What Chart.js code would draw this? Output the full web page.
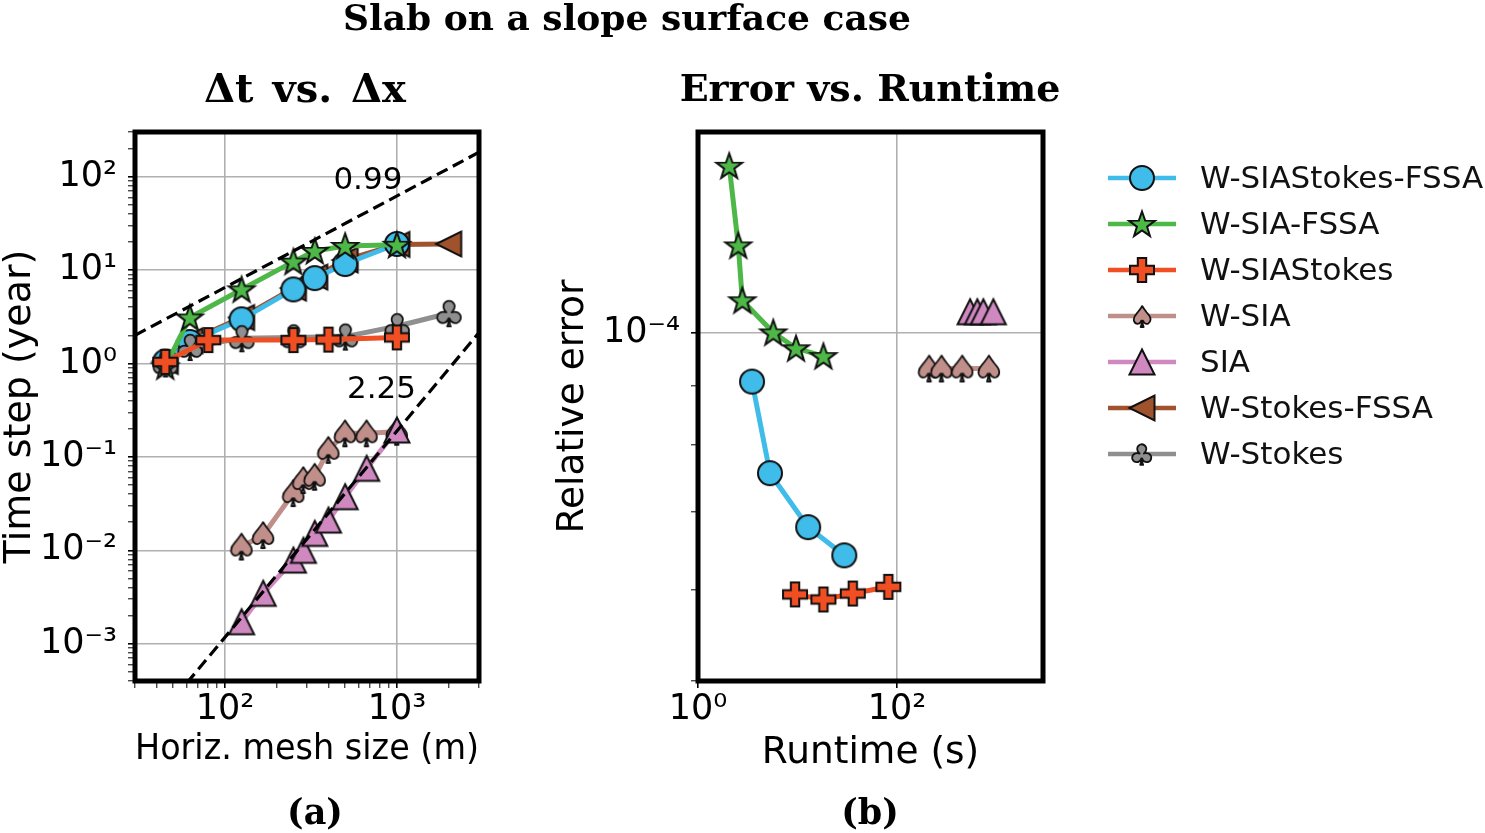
<!DOCTYPE html>
<html lang="en">
<head>
<meta charset="utf-8">
<title>Slab on a slope surface case</title>
<script src="https://cdn.jsdelivr.net/npm/chart.js@4.4.1/dist/chart.umd.min.js"></script>
<style>
  body { margin: 0; background: #fff; }
  #page { position: relative; width: 1485px; height: 833px; overflow: hidden; }
  .box { position: absolute; top: 0; height: 833px; }
  .titre { position: absolute; transform: translate(-50%, -50%); font-family: "DejaVu Serif"; font-weight: bold;
           line-height: 1; white-space: nowrap; color: #000; }
</style>
</head>
<body>
<div id="page">
  <div class="box" style="left:0; width:500px"><canvas id="dtChart"></canvas></div>
  <div class="box" style="left:540px; width:945px"><canvas id="errChart"></canvas></div>
  <div class="titre" style="left:627px; top:17px; font-size:36px">Slab on a slope surface case</div>
  <div class="titre" style="left:305px; top:88px; font-size:40px; word-spacing:5px">Δt vs. Δx</div>
  <div class="titre" style="left:870px; top:88px; font-size:38px">Error vs. Runtime</div>
  <div class="titre" style="left:315px; top:811px; font-size:35px">(a)</div>
  <div class="titre" style="left:870px; top:811px; font-size:35px">(b)</div>
</div>
<script>
// Series shared by both panels (legend order)
const seriesNames = ['W-SIAStokes-FSSA', 'W-SIA-FSSA', 'W-SIAStokes', 'W-SIA', 'SIA', 'W-Stokes-FSSA', 'W-Stokes'];
const seriesColors = ['#3fbce9', '#4db848', '#f04e23', '#c08f89', '#d088c0', '#a0522d', '#8f8f8f'];
const seriesMarkers = ['circle', 'star', 'plus', 'spade', 'triUp', 'triLeft', 'club'];
const seriesOrder = [3, 1, 0, 5, 4, 6, 2]; // smaller = drawn on top

// (a) time step vs horizontal mesh size
const dxSiaStokesFssa = [45, 62.5, 125, 250, 333, 500, 1000];
const dtSiaStokesFssa = [1.05, 1.7, 2.97, 6.2, 8.2, 11.6, 19];
const dxSiaFssa = [45, 62.5, 125, 250, 333, 500, 1000];
const dtSiaFssa = [0.93, 3.1, 6.2, 12.3, 16.0, 18.1, 18.6];
const dxSiaStokes = [45, 80, 250, 400, 1000];
const dtSiaStokes = [1.04, 1.78, 1.78, 1.8, 1.9];
const dxSia = [125, 167, 250, 286, 333, 400, 500, 667, 1000];
const dtSia = [0.011, 0.0146, 0.041, 0.0566, 0.0614, 0.119, 0.179, 0.179, 0.186];
const dxSiaOnly = [125, 167, 250, 286, 333, 400, 500, 667, 1000];
const dtSiaOnly = [0.00172, 0.00347, 0.00787, 0.0100, 0.0152, 0.0211, 0.0375, 0.0755, 0.194];
const dxStokesFssa = [45, 62.5, 125, 250, 333, 500, 1000, 2000];
const dtStokesFssa = [1.05, 1.75, 3.1, 6.4, 8.4, 12.8, 18.8, 19];
const dxStokes = [45, 62.5, 125, 250, 500, 1000, 2000];
const dtStokes = [1.0, 1.5, 1.86, 1.9, 1.94, 2.5, 3.45];

// dashed slope guides and their labels
const fitUpperX = [30, 3000];
const fitUpperY = [2.0, 182];
const fitLowerX = [60, 3000];
const fitLowerY = [3.8e-4, 2.14];
const slopeText = ['0.99', '2.25'];
const slopeTextX = [678, 813];
const slopeTextY = [90, 0.524];

// (b) relative error vs runtime
const rtSiaStokesFssa = [3.49, 5.29, 12.8, 29.5];
const errSiaStokesFssa = [9.07e-5, 7.56e-5, 6.79e-5, 6.42e-5];
const rtSiaFssa = [2.06, 2.54, 2.79, 5.71, 9.66, 18.2];
const errSiaFssa = [1.393e-4, 1.189e-4, 1.066e-4, 1.0e-4, 9.69e-5, 9.54e-5];
const rtSiaStokes = [9.44, 18.2, 35.9, 81.8];
const errSiaStokes = [5.94e-5, 5.88e-5, 5.95e-5, 6.03e-5];
const rtSia = [211, 281, 453, 841];
const errSia = [9.31e-5, 9.31e-5, 9.31e-5, 9.31e-5];
const rtSiaOnly = [542, 641, 737, 929];
const errSiaOnly = [1.042e-4, 1.042e-4, 1.042e-4, 1.042e-4];
const rtStokesFssa = [];
const errStokesFssa = [];
const rtStokes = [];
const errStokes = [];

// axes
const dtXRange = [30, 3000];
const dtYRange = [4e-4, 300];
const errXRange = [1, 2930];
const errYRange = [5e-5, 1.49e-4];
const dtXMajor = [100, 1000];
const dtXLabels = ['10²', '10³'];
const dtYMajor = [1e-3, 1e-2, 1e-1, 1, 10, 100];
const dtYLabels = ['10⁻³', '10⁻²', '10⁻¹', '10⁰', '10¹', '10²'];
const errXMajor = [1, 100];
const errXLabels = ['10⁰', '10²'];
const errYMajor = [1e-4];
const errYLabels = ['10⁻⁴'];

Chart.defaults.font.family = '"DejaVu Sans", sans-serif';
Chart.defaults.color = '#000';

// marker pictures drawn once, used as pointStyle
function makeMarker(kind, fill, glyphHeight) {
  const s = 40;
  const c = document.createElement('canvas');
  c.width = s;
  c.height = s;
  const g = c.getContext('2d');
  g.translate(s / 2, s / 2);
  g.fillStyle = fill;
  g.strokeStyle = '#111';
  g.lineWidth = 2;
  if (kind === 'spade' || kind === 'club') {
    const ch = kind === 'spade' ? '\u2660' : '\u2663';
    g.font = '100px "DejaVu Sans"';
    let m = g.measureText(ch);
    const size = 100 * glyphHeight / (m.actualBoundingBoxAscent + m.actualBoundingBoxDescent);
    g.font = size + 'px "DejaVu Sans"';
    m = g.measureText(ch);
    const x = -(m.actualBoundingBoxRight - m.actualBoundingBoxLeft) / 2;
    const y = (m.actualBoundingBoxAscent - m.actualBoundingBoxDescent) / 2;
    g.lineJoin = 'round';
    g.lineWidth = 1.8;
    g.fillText(ch, x, y);
    g.strokeText(ch, x, y);
    return c;
  }
  g.beginPath();
  if (kind === 'circle') {
    g.arc(0, 0, 12, 0, Math.PI * 2);
  } else if (kind === 'star') {
    for (let k = 0; k < 10; k++) {
      const r = k % 2 ? 5.4 : 13.5;
      const a = -Math.PI / 2 + k * Math.PI / 5;
      g.lineTo(r * Math.cos(a), r * Math.sin(a) + 1);
    }
    g.closePath();
  } else if (kind === 'plus') {
    const L = 12, w = 4.2;
    const p = [[-w, -L], [w, -L], [w, -w], [L, -w], [L, w], [w, w], [w, L], [-w, L], [-w, w], [-L, w], [-L, -w], [-w, -w]];
    p.forEach(q => g.lineTo(q[0], q[1]));
    g.closePath();
  } else if (kind === 'triUp') {
    g.moveTo(0, -12.5); g.lineTo(12.5, 12.5); g.lineTo(-12.5, 12.5); g.closePath();
  } else if (kind === 'triLeft') {
    g.moveTo(-12.5, 0); g.lineTo(12.5, -12.5); g.lineTo(12.5, 12.5); g.closePath();
  }
  g.fill();
  g.stroke();
  return c;
}
const plotMarkers = seriesMarkers.map((k, i) => makeMarker(k, seriesColors[i], 26));
const legendMarkers = seriesMarkers.map((k, i) => makeMarker(k, seriesColors[i], 21));

function pts(xs, ys) {
  return xs.map((x, i) => ({ x: x, y: ys[i] }));
}

function serie(i, xs, ys) {
  return {
    label: seriesNames[i],
    data: pts(xs, ys),
    borderColor: seriesColors[i],
    backgroundColor: seriesColors[i],
    borderWidth: 5,
    pointStyle: plotMarkers[i],
    pointRadius: 12,
    tension: 0,
    fill: false,
    order: seriesOrder[i]
  };
}

function guide(xs, ys) {
  return { data: pts(xs, ys), borderColor: '#000', borderWidth: 3.2, borderDash: [12, 6], pointRadius: 0, fill: false, order: -1 };
}

function logTicks(range, majors, withMinor) {
  const out = [];
  for (let e = Math.floor(Math.log10(range[0])); e <= Math.ceil(Math.log10(range[1])); e++) {
    for (let m = 1; m <= 9; m++) {
      const v = m * Math.pow(10, e);
      if (v < range[0] * 0.999 || v > range[1] * 1.001) continue;
      const dec = majors.some(t => Math.abs(t / v - 1) < 1e-6);
      if (dec || withMinor) out.push({ value: v, dec: dec });
    }
  }
  return out;
}

function logAxis(range, majors, labels, withMinor, title, titleSize, size, isX, titlePad) {
  const ticks = logTicks(range, majors, withMinor);
  return {
    type: 'logarithmic',
    min: range[0],
    max: range[1],
    bounds: 'data',
    afterBuildTicks: s => { s.ticks = ticks.map(t => ({ value: t.value, dec: t.dec })); },
    afterFit: s => { if (isX) s.height = size; else s.width = size; },
    border: { display: false },
    grid: {
      color: c => (c.tick && c.tick.dec ? '#b0b0b0' : 'rgba(0,0,0,0)'),
      lineWidth: 1.6,
      tickColor: '#000',
      tickLength: 7,
      tickWidth: c => (c.tick && c.tick.dec ? 1.6 : 1)
    },
    ticks: {
      autoSkip: false,
      maxRotation: 0,
      padding: isX ? 1 : 11,
      font: { size: 35 },
      color: '#000',
      callback: v => {
        const k = majors.findIndex(m => Math.abs(m / v - 1) < 1e-6);
        return k < 0 ? '' : labels[k];
      }
    },
    title: { display: true, text: title, font: { size: titleSize }, color: '#000', padding: titlePad }
  };
}

// thick black box around the plotting area
const framePlugin = {
  id: 'frame',
  afterDatasetsDraw(chart) {
    const { ctx, chartArea: a } = chart;
    ctx.save();
    ctx.strokeStyle = '#000';
    ctx.lineWidth = 5;
    ctx.strokeRect(a.left, a.top, a.right - a.left, a.bottom - a.top);
    ctx.restore();
  }
};

// slope values next to the dashed guides
const slopePlugin = {
  id: 'slopeText',
  afterDatasetsDraw(chart) {
    const { ctx, scales } = chart;
    ctx.save();
    ctx.font = '31px "DejaVu Sans"';
    ctx.fillStyle = '#000';
    ctx.textAlign = 'center';
    ctx.textBaseline = 'middle';
    slopeText.forEach((t, i) => {
      ctx.fillText(t, scales.x.getPixelForValue(slopeTextX[i]), scales.y.getPixelForValue(slopeTextY[i]));
    });
    ctx.restore();
  }
};

// legend to the right of panel (b)
const sideLegend = {
  id: 'sideLegend',
  afterDraw(chart) {
    const { ctx, chartArea: a } = chart;
    const x0 = a.right + 65;
    const y0 = a.top + 46;
    ctx.save();
    ctx.font = '31px "DejaVu Sans"';
    ctx.textBaseline = 'middle';
    seriesNames.forEach((name, i) => {
      const y = y0 + i * 46;
      ctx.strokeStyle = seriesColors[i];
      ctx.lineWidth = 4.5;
      ctx.beginPath();
      ctx.moveTo(x0, y);
      ctx.lineTo(x0 + 68, y);
      ctx.stroke();
      const img = legendMarkers[i];
      ctx.drawImage(img, x0 + 34 - img.width / 2, y - img.height / 2);
      ctx.fillStyle = '#111';
      ctx.fillText(name, x0 + 92, y + 2);
    });
    ctx.restore();
  }
};

const common = {
  responsive: true,
  maintainAspectRatio: false,
  animation: false,
  events: [],
  plugins: { legend: { display: false }, tooltip: { enabled: false } }
};

new Chart(document.getElementById('dtChart'), {
  type: 'line',
  data: {
    datasets: [
      serie(0, dxSiaStokesFssa, dtSiaStokesFssa),
      serie(1, dxSiaFssa, dtSiaFssa),
      serie(2, dxSiaStokes, dtSiaStokes),
      serie(3, dxSia, dtSia),
      serie(4, dxSiaOnly, dtSiaOnly),
      serie(5, dxStokesFssa, dtStokesFssa),
      serie(6, dxStokes, dtStokes),
      guide(fitUpperX, fitUpperY),
      guide(fitLowerX, fitLowerY)
    ]
  },
  options: Object.assign({}, common, {
    layout: { padding: { left: 0, top: 132, right: 21, bottom: 52 } },
    scales: {
      x: logAxis(dtXRange, dtXMajor, dtXLabels, true, 'Horiz. mesh size (m)', 36, 100, true, { top: 0, bottom: 10 }),
      y: logAxis(dtYRange, dtYMajor, dtYLabels, true, 'Time step (year)', 38, 135, false, { top: -3, bottom: 0 })
    }
  }),
  plugins: [slopePlugin, framePlugin]
});

new Chart(document.getElementById('errChart'), {
  type: 'line',
  data: {
    datasets: [
      serie(0, rtSiaStokesFssa, errSiaStokesFssa),
      serie(1, rtSiaFssa, errSiaFssa),
      serie(2, rtSiaStokes, errSiaStokes),
      serie(3, rtSia, errSia),
      serie(4, rtSiaOnly, errSiaOnly),
      serie(5, rtStokesFssa, errStokesFssa),
      serie(6, rtStokes, errStokes)
    ]
  },
  options: Object.assign({}, common, {
    layout: { padding: { left: 0, top: 132, right: 442, bottom: 52 } },
    scales: {
      x: logAxis(errXRange, errXMajor, errXLabels, false, 'Runtime (s)', 37.5, 100, true, { top: 0, bottom: 5 }),
      y: logAxis(errYRange, errYMajor, errYLabels, true, 'Relative error', 37.5, 158, false, { top: 11, bottom: 0 })
    }
  }),
  plugins: [framePlugin, sideLegend]
});
</script>
</body>
</html>
